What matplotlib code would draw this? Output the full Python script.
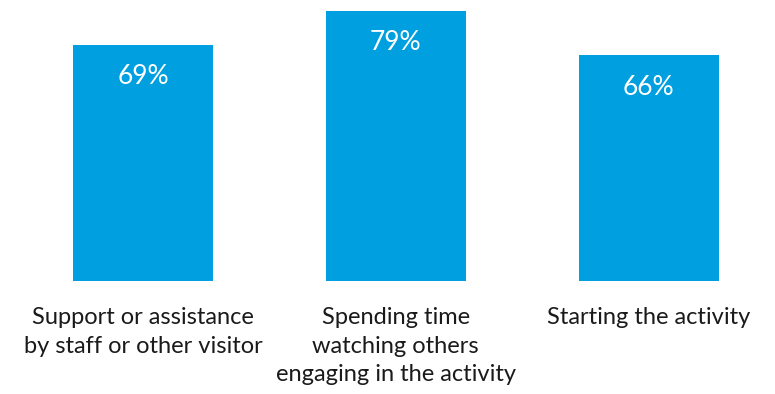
import matplotlib.pyplot as plt

# bar chart of share of respondents per activity stage
categories = ["Support or assistance\nby staff or other visitor",
              "Spending time\nwatching others\nengaging in the activity",
              "Starting the activity"]
values = [69, 79, 66]
value_labels = ["69%", "79%", "66%"]

plt.rcParams['font.family'] = ['Lato', 'DejaVu Sans']

fig = plt.figure(figsize=(7.75, 3.94), dpi=100)
ax = fig.add_axes([0.0214, 0.2868, 0.9786, 0.6944])

x = range(len(categories))
bars = ax.bar(x, values, width=0.554, color='#009FE0')

for b, lab in zip(bars, value_labels):
    ax.annotate(lab, (b.get_x() + b.get_width() / 2, b.get_height()),
                xytext=(0, -14), textcoords='offset points',
                ha='center', va='top', color='white', fontsize=19)

ax.set_xlim(-0.5, 2.5)
ax.set_ylim(0, 80)
ax.set_xticks(list(x))
ax.set_xticklabels(categories, fontsize=17, color='#1a1a1a', linespacing=1.42)
ax.tick_params(axis='x', length=0, pad=19)
ax.set_yticks([])
for s in ax.spines.values():
    s.set_visible(False)

fig.savefig('out.png', dpi=100)
